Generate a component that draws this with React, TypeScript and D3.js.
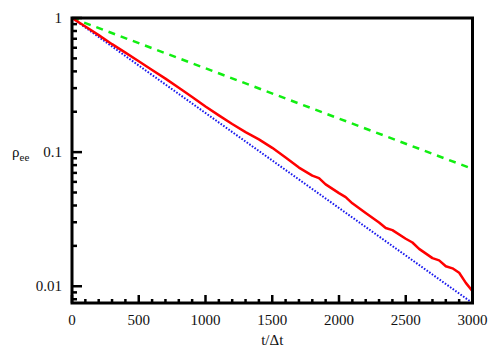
import React from "react";
import * as d3 from "d3";

// red: simulated rho_ee (noisy), green/blue: straight exponential references
const redT = [0, 100, 200, 300, 400, 500, 600, 700, 800, 900, 1000, 1100, 1200, 1300, 1400, 1500, 1600, 1700, 1800, 1850, 1900, 2000, 2050, 2100, 2200, 2300, 2350, 2400, 2500, 2550, 2600, 2700, 2750, 2800, 2850, 2900, 2950, 3000];
const redRho = [1, 0.865, 0.745, 0.638, 0.552, 0.476, 0.409, 0.353, 0.302, 0.258, 0.219, 0.188, 0.162, 0.141, 0.1245, 0.1076, 0.0912, 0.0767, 0.0668, 0.064, 0.0575, 0.0495, 0.0462, 0.0415, 0.0351, 0.0299, 0.0272, 0.0262, 0.0226, 0.0212, 0.019, 0.0162, 0.0156, 0.0141, 0.0136, 0.0126, 0.0106, 0.0092];

const greenT = [0, 3000];
const greenRho = [1, 0.075];

const blueT = [0, 3000];
const blueRho = [1, 0.0075];

const xTicks = [0, 500, 1000, 1500, 2000, 2500, 3000];
const yTicks = [1, 0.1, 0.01];
const yTickLabels = ["1", "0.1", "0.01"];

const W = 500;
const H = 350;
const margin = { left: 72, right: 27.5, top: 18, bottom: 47 };

export default function App() {
  const x = d3.scaleLinear().domain([0, 3000]).range([margin.left, W - margin.right]);
  const y = d3.scaleLog().domain([0.0075, 1]).range([H - margin.bottom, margin.top]);

  const line = d3
    .line<[number, number]>()
    .x((d) => x(d[0]))
    .y((d) => y(d[1]));

  const zip = (ts: number[], vs: number[]) => ts.map((t, i) => [t, vs[i]] as [number, number]);

  const xMinor = d3.range(0, 3001, 100).filter((t) => t % 500 !== 0);
  const yMinor: number[] = [];
  [0.001, 0.01, 0.1].forEach((base) => {
    for (let k = 2; k <= 9; k++) {
      const v = base * k;
      if (v >= 0.0075 && v < 1) yMinor.push(v);
    }
  });

  const x0 = margin.left;
  const x1 = W - margin.right;
  const y0 = H - margin.bottom;
  const y1 = margin.top;
  const font = "Liberation Serif, DejaVu Serif, serif";

  return (
    <svg width={W} height={H} style={{ position: "absolute", left: 0, top: 0, background: "#fff" }}>
      <defs>
        <clipPath id="plot">
          <rect x={x0} y={y1} width={x1 - x0} height={y0 - y1} />
        </clipPath>
      </defs>

      <g clipPath="url(#plot)" fill="none">
        <path d={line(zip(greenT, greenRho)) || ""} stroke="#11ee11" strokeWidth={2.5} strokeDasharray="7,6" />
        <path d={line(zip(blueT, blueRho)) || ""} stroke="#1a1aee" strokeWidth={2} strokeDasharray="1.6,1.6" />
        <path d={line(zip(redT, redRho)) || ""} stroke="#ff0000" strokeWidth={2.5} strokeLinejoin="round" />
      </g>

      {/* ticks, pointing inward */}
      <g stroke="#000" strokeWidth={2.5}>
        {xTicks.map((t) => (
          <line key={"xM" + t} x1={x(t)} x2={x(t)} y1={y0} y2={y0 - 8} />
        ))}
        {xMinor.map((t) => (
          <line key={"xm" + t} x1={x(t)} x2={x(t)} y1={y0} y2={y0 - 4} />
        ))}
        {yTicks.map((v) => (
          <line key={"yM" + v} x1={x0} x2={x0 + 10} y1={y(v)} y2={y(v)} />
        ))}
        {yMinor.map((v) => (
          <line key={"ym" + v} x1={x0} x2={x0 + 5} y1={y(v)} y2={y(v)} />
        ))}
      </g>

      <rect x={x0} y={y1} width={x1 - x0} height={y0 - y1} fill="none" stroke="#000" strokeWidth={3} />

      <g style={{ fontFamily: font }} fontSize={15} fill="#111">
        {xTicks.map((t) => (
          <text key={"xl" + t} x={x(t)} y={y0 + 22} textAnchor="middle">
            {t}
          </text>
        ))}
        {yTicks.map((v, i) => (
          <text key={"yl" + v} x={x0 - 10} y={y(v) + 5} textAnchor="end">
            {yTickLabels[i]}
          </text>
        ))}
        <text x={(x0 + x1) / 2} y={H - 5} textAnchor="middle">
          t/Δt
        </text>
        <text x={12} y={157}>
          ρ<tspan fontSize={11} dy={4}>ee</tspan>
        </text>
      </g>
    </svg>
  );
}
